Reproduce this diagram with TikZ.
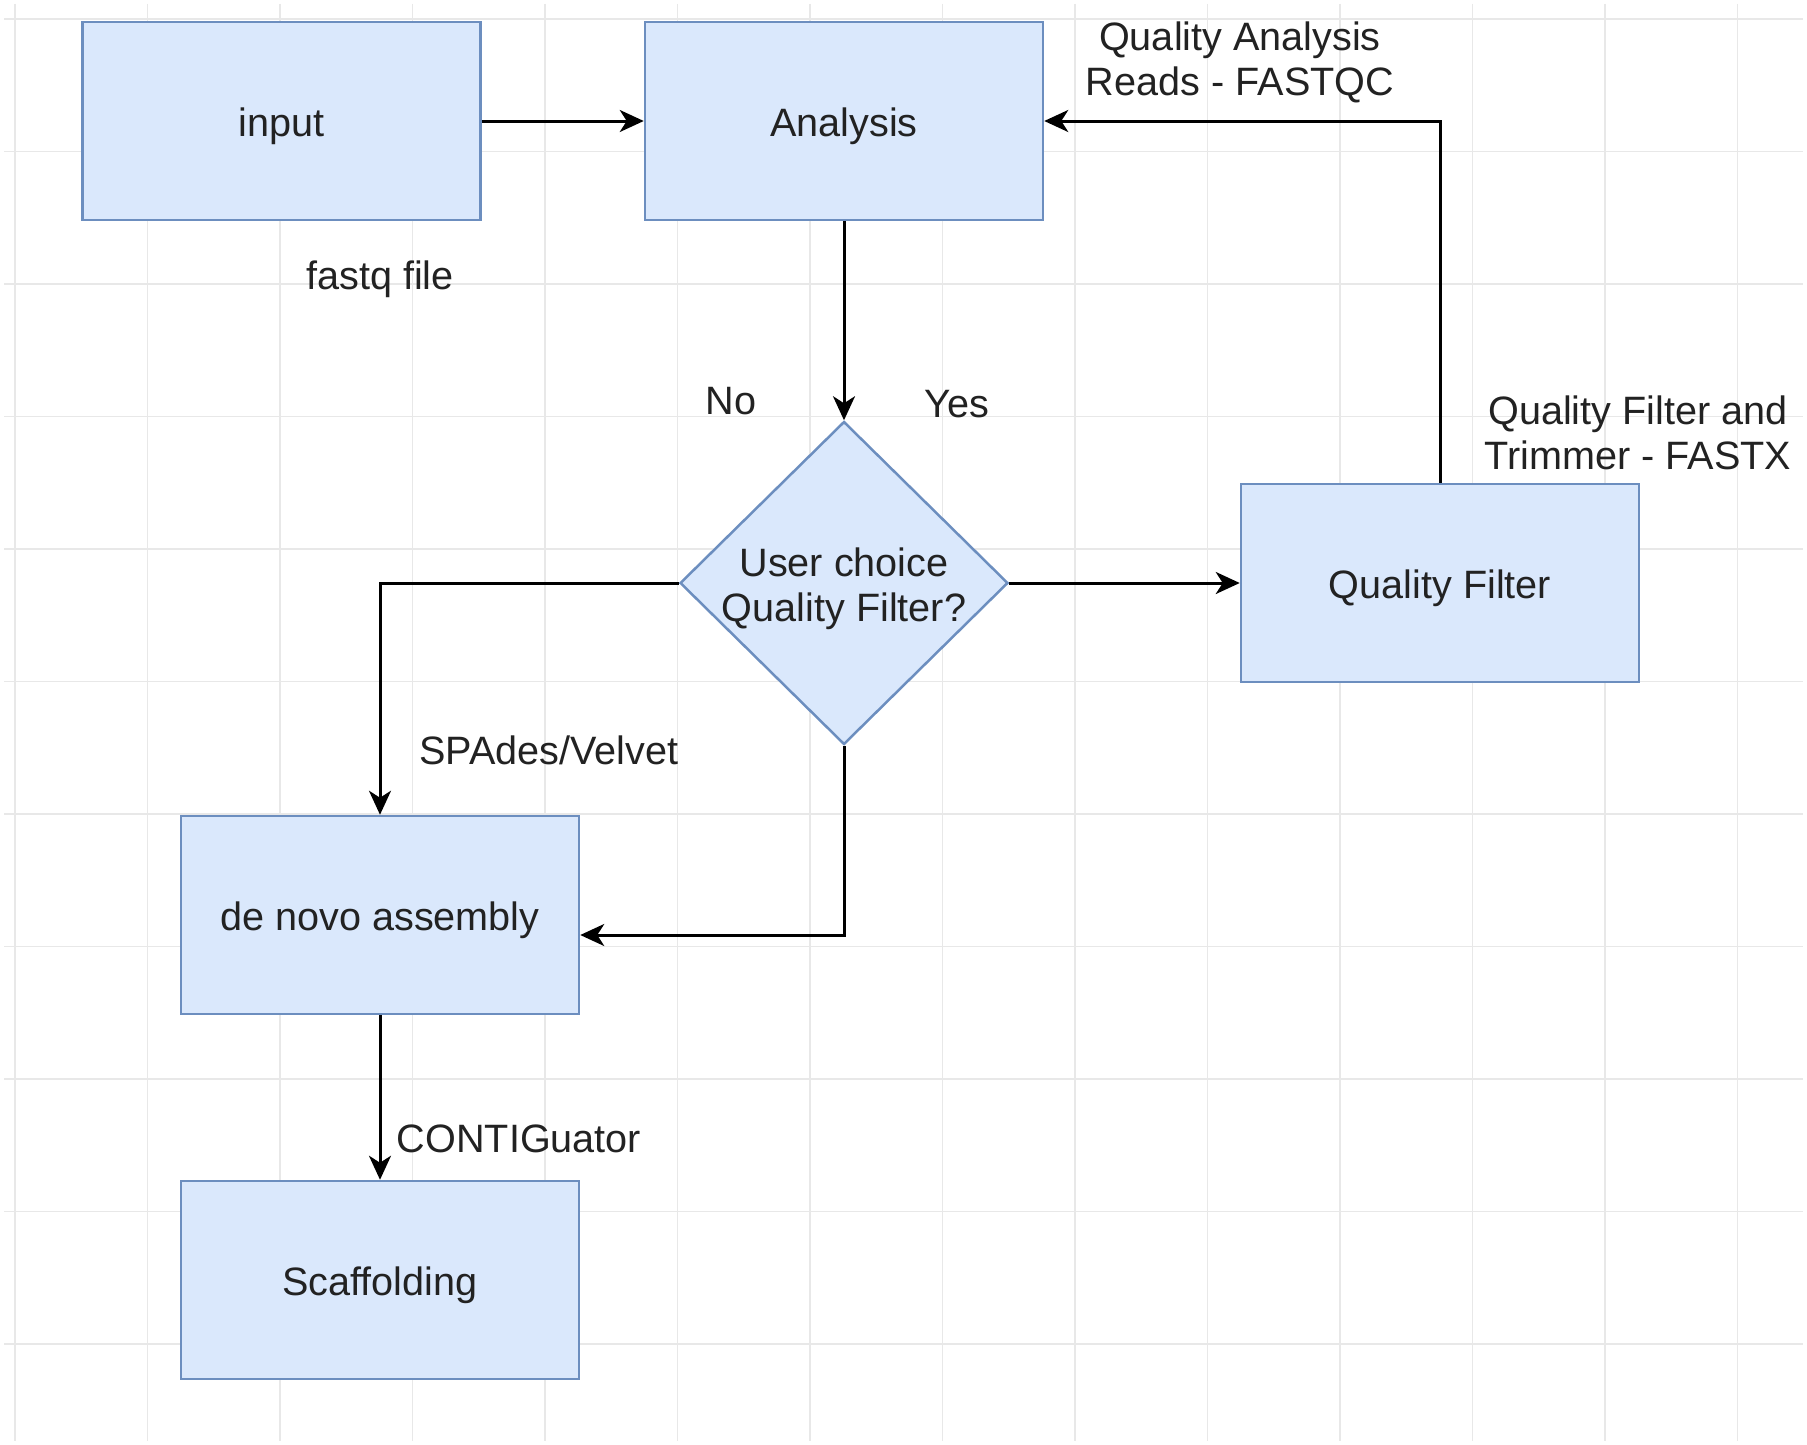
\documentclass[tikz,border=0pt]{standalone}
\usepackage{fontspec}
\setmainfont{Liberation Sans}
\usetikzlibrary{arrows.meta,shapes.geometric}
\definecolor{boxfill}{HTML}{DAE8FC}
\definecolor{boxdraw}{HTML}{6C8EBF}
\definecolor{gridc}{HTML}{E8E8E8}
\definecolor{txt}{HTML}{222222}
\begin{document}
\begin{tikzpicture}[x=1pt,y=-1pt,
  txtfont/.style={font=\fontsize{39.6}{45}\selectfont},
  box/.style={draw=boxdraw,fill=boxfill,line width=2.5pt,minimum width=398pt,minimum height=198pt,inner sep=0pt,text=txt,txtfont,text height=33pt,text depth=3pt},
  dec/.style={diamond,draw=boxdraw,fill=boxfill,line width=2.5pt,minimum width=328pt,minimum height=323pt,inner sep=0pt,aspect=1,align=center,text=txt,txtfont},
  lbl/.style={text=txt,txtfont,inner sep=0pt,align=center},
  conn/.style={line width=3pt,draw=black,-{Stealth[length=24pt,width=22pt,inset=7pt]}}
]
\useasboundingbox[fill=white] (0,0) rectangle (1807,1445);
% grid
\foreach \i in {0,...,13} \draw[gridc,line width=1.5pt] ({15+132.5*\i},4) -- ({15+132.5*\i},1441);
\foreach \j in {0,...,10} \draw[gridc,line width=1.5pt] (4,{19+132.5*\j}) -- (1803,{19+132.5*\j});
% nodes
\node[box] (input) at (281.5,121) {input};
\node[box] (analysis) at (844,121) {Analysis};
\node[dec] (dec) at (844,583) {};
\node[box] (qf) at (1440,583) {Quality Filter};
\node[box] (denovo) at (380,915) {de novo assembly};
\node[box] (scaf) at (380,1280) {Scaffolding};
\node[lbl] (dectext) at (844,589) {User choice\\Quality Filter?};
% labels
\node[lbl] (lfastq) at (380,279) {fastq file};
\node[lbl] (lfastqc) at (1240,62) {Quality Analysis\\Reads - FASTQC};
\node[lbl] (lno) at (731,401) {No};
\node[lbl] (lyes) at (957,404) {Yes};
\node[lbl] (lfastx) at (1638,433) {Quality Filter and\\Trimmer - FASTX};
\node[lbl] (lspades) at (549,750) {SPAdes/Velvet};
\node[lbl] (lcontig) at (519,1139) {CONTIGuator};
% connectors
\draw[conn] (input) -- (analysis);
\draw[conn] (analysis.south) -- (dec.north);
\draw[conn] (dec.east) -- (qf.west);
\draw[conn] (qf.north) |- (analysis.east);
\draw[conn] (dec.west) -| (denovo.north);
\draw[conn] (dec.south) |- ([yshift=-20pt]denovo.east);
\draw[conn] (denovo.south) -- (scaf.north);
\end{tikzpicture}
\end{document}
